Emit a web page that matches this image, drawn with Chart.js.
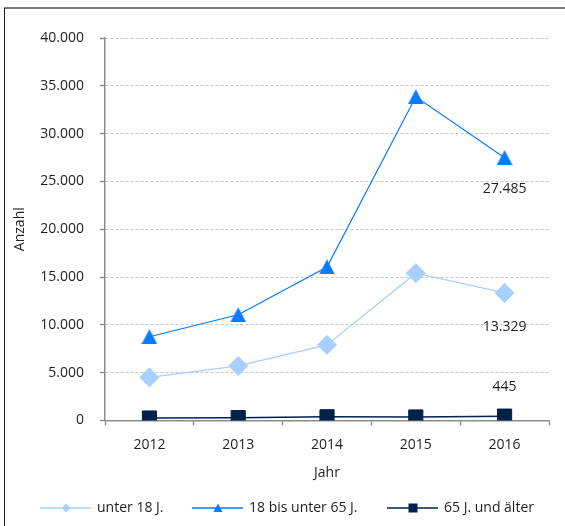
<!DOCTYPE html>
<html lang="de">
<head>
<meta charset="utf-8">
<title>Anzahl nach Altersgruppen 2012–2016</title>
<script src="https://cdn.jsdelivr.net/npm/chart.js@4/dist/chart.umd.min.js"></script>
<style>
  html, body { margin: 0; padding: 0; background: #ffffff; }
  canvas { display: block; }
</style>
</head>
<body>
<canvas id="chart" width="565" height="526"></canvas>
<script>
// Jahre und Werte je Altersgruppe
const years = ['2012', '2013', '2014', '2015', '2016'];
const seriesNames = ['unter 18 J.', '18 bis unter 65 J.', '65 J. und älter'];
const unter18 = [4500, 5700, 7900, 15400, 13329];
const von18bis65 = [8750, 11050, 16050, 33850, 27485];
const ab65 = [250, 290, 380, 360, 445];
const yTickValues = [0, 5000, 10000, 15000, 20000, 25000, 30000, 35000, 40000];

const TEXT = '#1e1e1e';
const FONT = { family: '"Open Sans", "Noto Sans", sans-serif', size: 14 };
const COLORS = ['#a7cfff', '#0a7bff', '#00214a'];
const AXIS = '#8c8c8c';

// German thousands separator: 27485 -> "27.485"
function fmt(v) {
  return String(Math.round(v)).replace(/\B(?=(\d{3})+(?!\d))/g, '.');
}

// Triangle marker whose bounding box is centred on the data point
function triangleMarker(w, h, color) {
  const c = document.createElement('canvas');
  c.width = w; c.height = h;
  const g = c.getContext('2d');
  g.fillStyle = color;
  g.beginPath();
  g.moveTo(w / 2, 0);
  g.lineTo(w, h);
  g.lineTo(0, h);
  g.closePath();
  g.fill();
  return c;
}

// Small marker shapes for the legend row
function legendMarker(ctx, style, x, y, color) {
  ctx.fillStyle = color;
  ctx.beginPath();
  if (style === 'diamond') {
    ctx.moveTo(x, y - 4.5); ctx.lineTo(x + 4.5, y); ctx.lineTo(x, y + 4.5); ctx.lineTo(x - 4.5, y);
  } else if (style === 'triangle') {
    ctx.moveTo(x, y - 4.5); ctx.lineTo(x + 4.5, y + 4); ctx.lineTo(x - 4.5, y + 4);
  } else {
    ctx.rect(x - 4.5, y - 4.5, 9, 9);
  }
  ctx.closePath();
  ctx.fill();
}

// Frame around the figure (top and left edges)
const framePlugin = {
  id: 'frame',
  beforeDraw(chart) {
    const ctx = chart.ctx;
    ctx.save();
    ctx.strokeStyle = '#7a7a7a';
    ctx.lineWidth = 2;
    ctx.beginPath(); ctx.moveTo(4, 8); ctx.lineTo(chart.width, 8); ctx.stroke();
    ctx.strokeStyle = '#1a1a1a';
    ctx.lineWidth = 1;
    ctx.beginPath(); ctx.moveTo(4.5, 8); ctx.lineTo(4.5, chart.height); ctx.stroke();
    ctx.restore();
  }
};

// Value labels for the last year of each series
const valueLabelPlugin = {
  id: 'valueLabels',
  afterDatasetsDraw(chart, args, opts) {
    const ctx = chart.ctx;
    ctx.save();
    ctx.font = `${FONT.size}px ${FONT.family}`;
    ctx.fillStyle = TEXT;
    ctx.textAlign = 'center';
    ctx.textBaseline = 'middle';
    opts.items.forEach(item => {
      const meta = chart.getDatasetMeta(item.dataset);
      const pt = meta.data[item.index];
      const value = chart.data.datasets[item.dataset].data[item.index];
      ctx.fillText(fmt(value), pt.x, pt.y + item.dy);
    });
    ctx.restore();
  }
};

// Legend row: line with marker, then series name
const legendRowPlugin = {
  id: 'legendRow',
  afterDraw(chart, args, opts) {
    const ctx = chart.ctx;
    ctx.save();
    ctx.font = `${FONT.size}px ${FONT.family}`;
    ctx.textBaseline = 'middle';
    ctx.textAlign = 'left';
    chart.data.datasets.forEach((ds, i) => {
      const x0 = opts.starts[i];
      const y = opts.y;
      ctx.strokeStyle = ds.borderColor;
      ctx.lineWidth = 1.5;
      ctx.beginPath(); ctx.moveTo(x0, y); ctx.lineTo(x0 + 51, y); ctx.stroke();
      legendMarker(ctx, opts.markers[i], x0 + 26, y, ds.pointBackgroundColor);
      ctx.fillStyle = TEXT;
      ctx.fillText(ds.label, x0 + 57, y);
    });
    ctx.restore();
  }
};

new Chart(document.getElementById('chart'), {
  type: 'line',
  data: {
    labels: years,
    datasets: [
      {
        label: seriesNames[0],
        data: unter18,
        borderColor: COLORS[0],
        borderWidth: 1.25,
        pointStyle: 'rectRot',
        pointRadius: 9.5,
        pointHoverRadius: 9.5,
        pointBackgroundColor: COLORS[0],
        pointBorderColor: COLORS[0],
        pointBorderWidth: 1
      },
      {
        label: seriesNames[1],
        data: von18bis65,
        borderColor: COLORS[1],
        borderWidth: 1.25,
        pointStyle: triangleMarker(16, 15, COLORS[1]),
        pointRadius: 8,
        pointHoverRadius: 8,
        pointBackgroundColor: COLORS[1],
        pointBorderColor: COLORS[1]
      },
      {
        label: seriesNames[2],
        data: ab65,
        borderColor: COLORS[2],
        borderWidth: 1.5,
        pointStyle: 'rect',
        pointRadius: 10,
        pointHoverRadius: 10,
        pointBackgroundColor: COLORS[2],
        pointBorderColor: COLORS[2],
        pointBorderWidth: 1
      }
    ]
  },
  options: {
    responsive: false,
    animation: false,
    devicePixelRatio: 1,
    layout: { padding: { left: 0, right: 16, top: 38, bottom: 45 } },
    plugins: {
      legend: { display: false },
      tooltip: { enabled: false },
      valueLabels: {
        items: [
          { dataset: 1, index: 4, dy: 31 },
          { dataset: 0, index: 4, dy: 34 },
          { dataset: 2, index: 4, dy: -29 }
        ]
      },
      legendRow: {
        y: 508,
        starts: [40, 192, 387],
        markers: ['diamond', 'triangle', 'square']
      }
    },
    scales: {
      x: {
        offset: true,
        grid: {
          offset: true,
          drawOnChartArea: false,
          drawTicks: true,
          tickLength: 5,
          tickColor: AXIS,
          tickWidth: 1.5
        },
        border: { color: AXIS, width: 1.5 },
        ticks: { color: TEXT, font: FONT, padding: 11, maxRotation: 0 },
        title: {
          display: true,
          text: 'Jahr',
          color: TEXT,
          font: FONT,
          padding: { top: 0, bottom: 0 }
        }
      },
      y: {
        min: 0,
        max: 40000,
        afterBuildTicks(scale) {
          scale.ticks = yTickValues.map(v => ({ value: v }));
        },
        afterFit(scale) { scale.width = 105; },
        grid: {
          color: '#c6c6c6',
          lineWidth: 1,
          drawTicks: true,
          tickLength: 5,
          tickColor: AXIS,
          tickWidth: 1.5,
          tickBorderDash: []
        },
        border: { color: AXIS, width: 1.5, dash: [3, 2] },
        ticks: {
          color: TEXT,
          font: FONT,
          padding: 16,
          callback: v => fmt(v)
        },
        title: {
          display: true,
          text: 'Anzahl',
          color: TEXT,
          font: FONT,
          padding: { top: 12, bottom: 0 }
        }
      }
    }
  },
  plugins: [framePlugin, valueLabelPlugin, legendRowPlugin]
});
</script>
</body>
</html>
